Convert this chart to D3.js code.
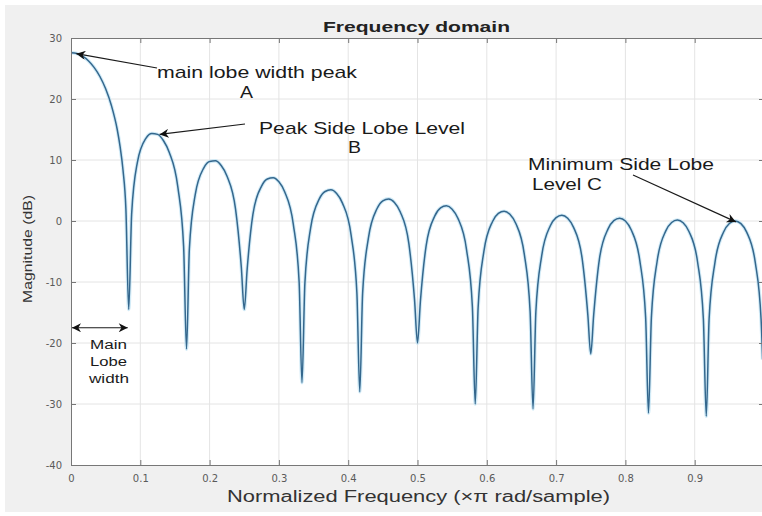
<!DOCTYPE html>
<html>
<head>
<meta charset="utf-8">
<script src="https://cdn.jsdelivr.net/npm/d3@7"></script>
<style>
  html, body { margin: 0; padding: 0; background: #ffffff; }
  svg { display: block; }
</style>
</head>
<body>
<svg id="chart" width="762" height="516"></svg>
<script>
// Magnitude response of a 24-point rectangular window, sampled over [0, 1) x pi rad/sample
const freq = [
  0, 0.0083, 0.0167, 0.025, 0.0333, 0.0417, 0.05, 0.0583, 0.0667, 0.0708, 0.075, 0.0792,
  0.0833, 0.0875, 0.0958, 0.1083, 0.1167, 0.125, 0.1333, 0.1417, 0.1542, 0.1625,
  0.1667, 0.1708, 0.1792, 0.1917, 0.2, 0.2083, 0.2167, 0.225, 0.2375, 0.2458,
  0.25, 0.2542, 0.2625, 0.275, 0.2833, 0.2917, 0.3, 0.3083, 0.3208, 0.3292,
  0.3333, 0.3375, 0.3458, 0.3583, 0.3667, 0.375, 0.3833, 0.3917, 0.4042, 0.4125,
  0.4167, 0.4208, 0.4292, 0.4417, 0.45, 0.4583, 0.4667, 0.475, 0.4875, 0.4958,
  0.5, 0.5042, 0.5125, 0.525, 0.5333, 0.5417, 0.55, 0.5583, 0.5708, 0.5792,
  0.5833, 0.5875, 0.5958, 0.6083, 0.6167, 0.625, 0.6333, 0.6417, 0.6542, 0.6625,
  0.6667, 0.6708, 0.6792, 0.6917, 0.7, 0.7083, 0.7167, 0.725, 0.7375, 0.7458,
  0.75, 0.7542, 0.7625, 0.775, 0.7833, 0.7917, 0.8, 0.8083, 0.8208, 0.8292,
  0.8333, 0.8375, 0.8458, 0.8583, 0.8667, 0.875, 0.8833, 0.8917, 0.9042, 0.9125,
  0.9167, 0.9208, 0.9292, 0.9417, 0.95, 0.9583, 0.9667, 0.975, 0.9875, 0.9958, 0.998
];
const magnitudeDb = [
  27.6, 27.46, 27.02, 26.28, 25.19, 23.69, 21.67, 18.93, 15.0, 12.23, 8.4, 2.0,
  -14.5, 1.16, 9.62, 13.59, 14.35, 14.2, 13.2, 11.28, 5.54, -4.16,
  -21.0, -4.58, 4.27, 8.72, 9.76, 9.86, 9.09, 7.38, 1.91, -7.63,
  -14.5, -7.9, 1.08, 5.72, 6.88, 7.09, 6.42, 4.8, -0.54, -9.99,
  -26.5, -10.19, -1.13, 3.62, 4.84, 5.11, 4.5, 2.93, -2.32, -11.72,
  -28.0, -11.87, -2.77, 2.04, 3.31, 3.62, 3.05, 1.53, -3.67, -13.04,
  -20.0, -13.16, -4.02, 0.84, 2.14, 2.48, 1.94, 0.44, -4.72, -14.05,
  -30.0, -14.14, -4.98, -0.08, 1.24, 1.6, 1.09, -0.38, -5.51, -14.83,
  -30.8, -14.89, -5.71, -0.78, 0.56, 0.95, 0.45, -1.0, -6.1, -15.4,
  -21.8, -15.45, -6.24, -1.29, 0.07, 0.47, 0.0, -1.44, -6.51, -15.79,
  -31.5, -15.82, -6.6, -1.62, -0.25, 0.17, -0.29, -1.71, -6.76, -16.03,
  -32.0, -16.04, -6.81, -1.8, -0.41, 0.02, -0.43, -1.83, -6.86, -16.11, -22.7
];

const xTicks = [0, 0.1, 0.2, 0.3, 0.4, 0.5, 0.6, 0.7, 0.8, 0.9];
const yTicks = [30, 20, 10, 0, -10, -20, -30, -40];

const titleText = "Frequency domain";
const xLabelText = "Normalized Frequency  (\u00d7\u03c0 rad/sample)";
const yLabelText = "Magnitude (dB)";

// Annotated points on the response: main lobe peak, first side lobe, last side lobe
const markFreq = [0.002, 0.125, 0.958];
const markDb = [27.6, 14.2, 0.02];
const mainLobeWidth = [0, 0.0833];
const mainLobeY = -17.5;

const svg = d3.select("#chart");
const W = 762, H = 516;
const plot = { left: 71, right: 764, top: 38, bottom: 465 };

// figure background
svg.append("rect").attr("x", 0).attr("y", 0).attr("width", W).attr("height", H).attr("fill", "#ffffff");
svg.append("rect").attr("x", 5).attr("y", 5).attr("width", W - 5).attr("height", H - 9).attr("fill", "#f0f0f0");

const x = d3.scaleLinear().domain([0, 1]).range([plot.left, plot.right]);
const y = d3.scaleLinear().domain([-40, 30]).range([plot.bottom, plot.top]);

// axes background
svg.append("rect")
  .attr("x", plot.left).attr("y", plot.top)
  .attr("width", plot.right - plot.left).attr("height", plot.bottom - plot.top)
  .attr("fill", "#ffffff");

// grid
const grid = svg.append("g").attr("stroke", "#e4e4e4").attr("stroke-width", 1);
grid.selectAll("line.vx").data(xTicks.slice(1)).join("line")
  .attr("x1", d => x(d)).attr("x2", d => x(d))
  .attr("y1", plot.top).attr("y2", plot.bottom);
grid.selectAll("line.hy").data(yTicks.slice(1, -1)).join("line")
  .attr("x1", plot.left).attr("x2", plot.right)
  .attr("y1", d => y(d)).attr("y2", d => y(d));

// clip for the response curve
svg.append("defs").append("clipPath").attr("id", "plotClip")
  .append("rect").attr("x", plot.left).attr("y", plot.top)
  .attr("width", plot.right - plot.left).attr("height", plot.bottom - plot.top);

const points = freq.map((f, i) => [f, magnitudeDb[i]]);
const line = d3.line().x(d => x(d[0])).y(d => y(d[1])).curve(d3.curveMonotoneX);

const curveG = svg.append("g").attr("clip-path", "url(#plotClip)");
curveG.append("path").datum(points)
  .attr("d", line).attr("fill", "none")
  .attr("stroke", "#bfe2f3").attr("stroke-width", 3.6).attr("stroke-opacity", 0.7)
  .attr("stroke-linejoin", "round");
curveG.append("path").datum(points)
  .attr("d", line).attr("fill", "none")
  .attr("stroke", "#34678d").attr("stroke-width", 1.5)
  .attr("stroke-linejoin", "round");

// axes with inward ticks on all four sides
const axisColor = "#777777";
const tickFont = "'DejaVu Sans', 'Liberation Sans', Arial, sans-serif";
function styleAxis(g, showLabels) {
  g.select(".domain").attr("stroke", axisColor);
  g.selectAll(".tick line").attr("stroke", axisColor);
  g.selectAll(".tick text")
    .attr("fill", "#5a5a5a")
    .attr("font-family", tickFont)
    .attr("font-size", 10)
    .style("display", showLabels ? null : "none");
}

svg.append("g").attr("transform", `translate(0,${plot.bottom})`)
  .call(d3.axisBottom(x).tickValues(xTicks).tickSize(-5).tickPadding(10).tickFormat(d => String(d)))
  .call(g => styleAxis(g, true));
svg.append("g").attr("transform", `translate(0,${plot.top})`)
  .call(d3.axisTop(x).tickValues(xTicks).tickSize(-5).tickFormat(() => ""))
  .call(g => styleAxis(g, false));
svg.append("g").attr("transform", `translate(${plot.left},0)`)
  .call(d3.axisLeft(y).tickValues(yTicks).tickSize(-5).tickPadding(9).tickFormat(d => String(d)))
  .call(g => styleAxis(g, true));
svg.append("g").attr("transform", `translate(${plot.right},0)`)
  .call(d3.axisRight(y).tickValues(yTicks).tickSize(-5).tickFormat(() => ""))
  .call(g => styleAxis(g, false));

// titles
const textFont = "'Liberation Sans', Arial, Helvetica, sans-serif";
svg.append("text")
  .attr("x", 323).attr("y", 32)
  .attr("font-family", textFont).attr("font-weight", "bold").attr("font-size", 14)
  .attr("fill", "#222")
  .attr("textLength", 187).attr("lengthAdjust", "spacingAndGlyphs")
  .text(titleText);

svg.append("text")
  .attr("x", 227).attr("y", 502)
  .attr("font-family", textFont).attr("font-size", 16)
  .attr("fill", "#333")
  .attr("textLength", 383).attr("lengthAdjust", "spacingAndGlyphs")
  .text(xLabelText);

svg.append("text")
  .attr("transform", "translate(32,303) rotate(-90)")
  .attr("font-family", textFont).attr("font-size", 13)
  .attr("fill", "#333")
  .attr("textLength", 108).attr("lengthAdjust", "spacingAndGlyphs")
  .text(yLabelText);

// arrowheads
const defs = svg.select("defs");
defs.append("marker").attr("id", "headEnd")
  .attr("viewBox", "0 0 10 10").attr("refX", 10).attr("refY", 5)
  .attr("markerWidth", 14).attr("markerHeight", 9).attr("markerUnits", "userSpaceOnUse")
  .attr("orient", "auto")
  .append("path").attr("d", "M0,0 L10,5 L0,10 L3,5 Z").attr("fill", "#111");
defs.append("marker").attr("id", "headStart")
  .attr("viewBox", "0 0 10 10").attr("refX", 0).attr("refY", 5)
  .attr("markerWidth", 14).attr("markerHeight", 9).attr("markerUnits", "userSpaceOnUse")
  .attr("orient", "auto")
  .append("path").attr("d", "M10,0 L0,5 L10,10 L7,5 Z").attr("fill", "#111");

const ann = svg.append("g").attr("stroke", "#1a1a1a").attr("stroke-width", 1.2).attr("fill", "none");

// arrow tails sit beside each label, tips on the annotated points
const tails = [[157, 68], [245, 124], [633, 175]];
const tipOffsets = [[4, 1], [2, 0], [1, 1]];
markFreq.forEach((f, i) => {
  ann.append("line")
    .attr("x1", tails[i][0]).attr("y1", tails[i][1])
    .attr("x2", x(f) + tipOffsets[i][0]).attr("y2", y(markDb[i]) + tipOffsets[i][1])
    .attr("marker-end", "url(#headEnd)");
});

// main lobe width double arrow
ann.append("line")
  .attr("x1", x(mainLobeWidth[0]) + 1).attr("x2", x(mainLobeWidth[1]) - 1)
  .attr("y1", y(mainLobeY)).attr("y2", y(mainLobeY))
  .attr("marker-start", "url(#headStart)")
  .attr("marker-end", "url(#headEnd)");

const labels = [
  { t: "main lobe width peak", x: 157, y: 78, w: 200, s: 17 },
  { t: "A", x: 240, y: 98, w: 13, s: 17 },
  { t: "Peak Side Lobe Level", x: 259, y: 134, w: 206, s: 17 },
  { t: "B", x: 348, y: 153, w: 13, s: 17 },
  { t: "Minimum Side Lobe", x: 528, y: 170, w: 186, s: 16 },
  { t: "Level C", x: 532, y: 190, w: 70, s: 16 },
  { t: "Main", x: 90, y: 349, w: 37, s: 12 },
  { t: "Lobe", x: 90, y: 366, w: 37, s: 12 },
  { t: "width", x: 89, y: 383, w: 40, s: 12 }
];
svg.append("g").selectAll("text").data(labels).join("text")
  .attr("x", d => d.x).attr("y", d => d.y)
  .attr("font-family", textFont).attr("font-size", d => d.s)
  .attr("fill", "#1a1a1a")
  .attr("textLength", d => d.w).attr("lengthAdjust", "spacingAndGlyphs")
  .text(d => d.t);
</script>
</body>
</html>
